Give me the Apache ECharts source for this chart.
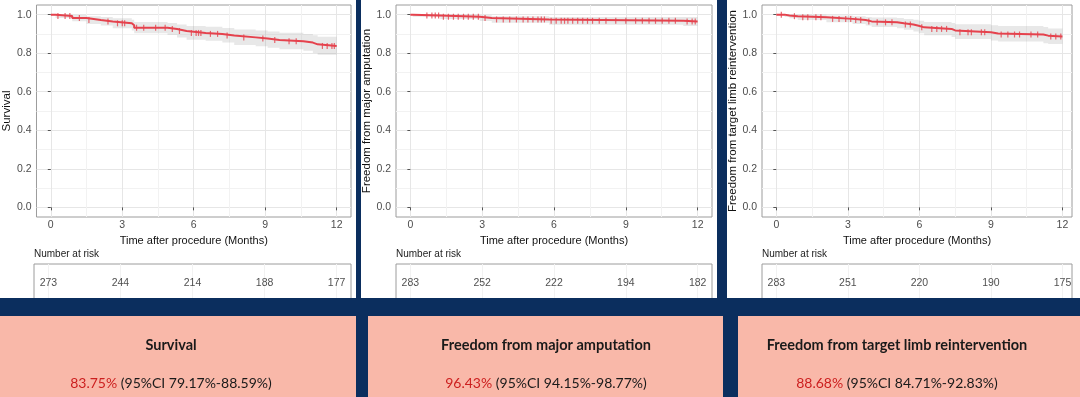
<!DOCTYPE html>
<html>
<head>
<meta charset="utf-8">
<title>Kaplan-Meier</title>
<script src="https://cdn.jsdelivr.net/npm/echarts@6.0.0/dist/echarts.min.js"></script>
<style>
    html, body { margin: 0; padding: 0; background: #0b2e5e; }
    #main { width: 1080px; height: 397px; }
</style>
</head>
<body>
<div id="main"></div>
<script>
// ---- data ----
var monthTicks = [0, 3, 6, 9, 12];
var monthMinor = [1.5, 4.5, 7.5, 10.5];
var yTicks = [0, 0.2, 0.4, 0.6, 0.8, 1.0];
var yMinor = [0.1, 0.3, 0.5, 0.7, 0.9];

var yNames = ['Survival', 'Freedom from major amputation', 'Freedom from target limb reintervention'];
var boxTitles = ['Survival', 'Freedom from major amputation', 'Freedom from target limb reintervention'];
var estimates = ['83.75%', '96.43%', '88.68%'];
var ciTexts = ['(95%CI 79.17%-88.59%)', '(95%CI 94.15%-98.77%)', '(95%CI 84.71%-92.83%)'];

// survival
var time1 = [0, 0.2, 0.9, 1.5, 2.1, 2.6, 3.4, 3.5, 4.9, 5.3, 5.7, 6.5, 7.2, 7.7, 8.6, 9.1, 9.6, 10.6, 11.0, 11.2, 12];
var surv1 = [1, 0.993, 0.982, 0.972, 0.965, 0.955, 0.945, 0.932, 0.925, 0.915, 0.905, 0.90, 0.892, 0.882, 0.876, 0.869, 0.862, 0.855, 0.846, 0.8375, 0.8375];
var lower1 = [1, 0.983, 0.966, 0.952, 0.943, 0.930, 0.918, 0.903, 0.894, 0.882, 0.870, 0.864, 0.855, 0.843, 0.836, 0.828, 0.820, 0.812, 0.801, 0.7917, 0.7917];
var upper1 = [1, 1.0, 0.998, 0.992, 0.988, 0.981, 0.973, 0.962, 0.957, 0.949, 0.941, 0.937, 0.931, 0.923, 0.918, 0.912, 0.906, 0.900, 0.893, 0.8859, 0.8859];
var censor1 = [0.3, 0.6, 0.8, 1.2, 1.6, 2.4, 2.8, 3.0, 3.1, 3.6, 3.9, 4.4, 4.8, 5.1, 5.4, 5.9, 6.1, 6.2, 6.3, 6.7, 7.0, 7.4, 8.1, 8.9, 9.4, 10.0, 10.3, 11.4, 11.6, 11.8, 11.9];
var risk1 = [273, 244, 214, 188, 177];

// major amputation
var time2 = [0, 0.1, 1.25, 2.9, 3.4, 5.8, 11.4, 12];
var surv2 = [1, 0.996, 0.989, 0.982, 0.975, 0.968, 0.9643, 0.9643];
var lower2 = [1, 0.989, 0.977, 0.967, 0.958, 0.948, 0.9415, 0.9415];
var upper2 = [1, 1, 1, 0.997, 0.992, 0.988, 0.9877, 0.9877];
var censor2 = [0.69, 0.9, 1.04, 1.18, 1.38, 1.59, 1.8, 2.0, 2.22, 2.42, 2.63, 2.84, 3.12, 3.6, 3.88, 4.15, 4.43, 4.71, 4.91, 5.12, 5.33, 5.47, 5.6, 5.88, 6.09, 6.3, 6.44, 6.58, 6.78, 6.99, 7.2, 7.4, 7.61, 7.89, 8.17, 8.58, 9.0, 9.41, 9.69, 9.97, 10.24, 10.52, 10.8, 11.07, 11.56, 11.77, 11.9];
var risk2 = [283, 252, 222, 194, 182];

// target limb reintervention
var time3 = [0, 0.35, 0.55, 0.9, 2.1, 3.2, 3.75, 4.0, 5.06, 5.35, 5.75, 5.97, 6.2, 7.35, 7.5, 9.0, 9.3, 11.2, 11.4, 12];
var surv3 = [1, 0.996, 0.992, 0.986, 0.978, 0.972, 0.965, 0.96, 0.955, 0.949, 0.942, 0.934, 0.926, 0.918, 0.909, 0.902, 0.897, 0.891, 0.8868, 0.8868];
var lower3 = [1, 0.988, 0.981, 0.972, 0.961, 0.952, 0.943, 0.936, 0.929, 0.921, 0.912, 0.903, 0.893, 0.884, 0.874, 0.866, 0.860, 0.852, 0.8471, 0.8471];
var upper3 = [1, 1, 1, 0.999, 0.995, 0.992, 0.988, 0.985, 0.982, 0.978, 0.973, 0.968, 0.962, 0.956, 0.950, 0.945, 0.941, 0.936, 0.9283, 0.9283];
var censor3 = [0.21, 0.76, 1.11, 1.32, 1.66, 1.87, 2.36, 2.63, 2.91, 3.12, 3.33, 3.54, 3.88, 4.23, 4.58, 4.85, 5.41, 5.62, 6.1, 6.52, 6.73, 6.93, 7.14, 7.7, 8.04, 8.18, 8.6, 8.74, 9.43, 9.71, 9.99, 10.2, 10.68, 10.96, 11.51, 11.72, 11.93];
var risk3 = [283, 251, 220, 190, 175];

var panels = [
    { time: time1, surv: surv1, lower: lower1, upper: upper1, censor: censor1, risk: risk1 },
    { time: time2, surv: surv2, lower: lower2, upper: upper2, censor: censor2, risk: risk2 },
    { time: time3, surv: surv3, lower: lower3, upper: upper3, censor: censor3, risk: risk3 }
];

// ---- layout ----
var plotLeft = [34, 396, 762];
var plotWidth = [317, 316, 310];
var xMax = [12.6, 12.6, 12.4];
var panelRects = [[0, 0, 356, 298], [361, 0, 356, 298], [727, 0, 353, 298]];
var boxRects = [[0, 316, 356, 81], [368, 316, 355, 81], [738, 316, 342, 81]];
var boxCenter = [171, 546, 897];

var FONT = 'Liberation Sans, Arial, sans-serif';
var RED = '#e5424d';

function survAt(times, surv, t) {
    var v = surv[0];
    for (var k = 0; k < times.length; k++) {
        if (times[k] <= t) v = surv[k];
    }
    return v;
}

// confidence band as one step-shaped polygon, placed through the axes
function bandRenderer(p) {
    return function (params, api) {
        var pts = [], n = p.time.length, k;
        for (k = 0; k < n; k++) {
            if (k > 0) pts.push(api.coord([p.time[k], p.upper[k - 1]]));
            pts.push(api.coord([p.time[k], p.upper[k]]));
        }
        for (k = n - 1; k >= 0; k--) {
            pts.push(api.coord([p.time[k], p.lower[k]]));
            if (k > 0) pts.push(api.coord([p.time[k], p.lower[k - 1]]));
        }
        return { type: 'polygon', shape: { points: pts }, style: { fill: 'rgba(150,150,150,0.22)' } };
    };
}

var grids = [], xAxes = [], yAxes = [], series = [], graphics = [];

panelRects.forEach(function (r) {
    graphics.push({ type: 'rect', z: -1, shape: { x: r[0], y: r[1], width: r[2], height: r[3] }, style: { fill: '#fff' } });
});

panels.forEach(function (p, i) {
    var g = i * 2, a = i * 3;

    // main plot
    grids.push({ left: plotLeft[i], width: plotWidth[i], top: 5, height: 212, show: true, borderColor: '#9c9c9c', borderWidth: 1, backgroundColor: 'transparent' });
    // number at risk box
    grids.push({ left: plotLeft[i], width: plotWidth[i], top: 264, height: 50, show: true, borderColor: '#9c9c9c', borderWidth: 1 });

    xAxes.push({
        gridIndex: g, type: 'value', min: -0.6, max: xMax[i],
        name: 'Time after procedure (Months)', nameLocation: 'middle', nameGap: 12,
        nameTextStyle: { fontSize: 11, color: '#111', fontFamily: FONT },
        axisLine: { show: false },
        axisTick: { show: true, length: 3, lineStyle: { color: '#555' }, customValues: monthTicks },
        axisLabel: { fontSize: 10.5, color: '#4d4d4d', margin: 3, fontFamily: FONT, customValues: monthTicks },
        splitLine: { show: true, lineStyle: { color: '#e6e6e6', width: 1 } }
    });
    xAxes.push({
        gridIndex: g, type: 'value', min: -0.6, max: xMax[i], position: 'top',
        axisLine: { show: false }, axisLabel: { show: false },
        axisTick: { show: false, customValues: monthMinor },
        splitLine: { show: true, lineStyle: { color: '#f2f2f2', width: 1 } }
    });
    xAxes.push({
        gridIndex: g + 1, type: 'value', min: -0.6, max: xMax[i],
        axisLine: { show: false }, axisLabel: { show: false },
        axisTick: { show: false, customValues: monthTicks },
        splitLine: { show: true, lineStyle: { color: '#f2f2f2', width: 1 } }
    });

    yAxes.push({
        gridIndex: g, type: 'value', min: -0.05, max: 1.05,
        name: yNames[i], nameLocation: 'middle', nameGap: 21, nameRotate: 90,
        nameTextStyle: { fontSize: 11.5, color: '#111', fontFamily: FONT },
        axisLine: { show: false },
        axisTick: { show: true, length: 3, lineStyle: { color: '#555' }, customValues: yTicks },
        axisLabel: { fontSize: 10.5, color: '#4d4d4d', margin: 5, fontFamily: FONT, customValues: yTicks,
            formatter: function (v) { return v.toFixed(1); } },
        splitLine: { show: true, lineStyle: { color: '#e6e6e6', width: 1 } }
    });
    yAxes.push({
        gridIndex: g, type: 'value', min: -0.05, max: 1.05, position: 'right',
        axisLine: { show: false }, axisLabel: { show: false },
        axisTick: { show: false, customValues: yMinor },
        splitLine: { show: true, lineStyle: { color: '#f2f2f2', width: 1 } }
    });
    yAxes.push({
        gridIndex: g + 1, type: 'value', min: -1, max: 1,
        axisLine: { show: false }, axisLabel: { show: false }, axisTick: { show: false }, splitLine: { show: false }
    });

    // confidence band
    series.push({
        type: 'custom', xAxisIndex: a, yAxisIndex: a, silent: true, clip: true,
        renderItem: bandRenderer(p),
        data: [[0, 1]]
    });
    // KM step curve
    series.push({
        type: 'line', xAxisIndex: a, yAxisIndex: a, step: 'end', symbol: 'none',
        lineStyle: { color: RED, width: 2 },
        data: p.time.map(function (t, k) { return [t, p.surv[k]]; })
    });
    // censor ticks
    series.push({
        type: 'scatter', xAxisIndex: a, yAxisIndex: a, symbol: 'rect', symbolSize: [1.2, 6],
        itemStyle: { color: RED },
        data: p.censor.map(function (t) { return [t, survAt(p.time, p.surv, t)]; })
    });
    // numbers at risk
    series.push({
        type: 'scatter', xAxisIndex: a + 2, yAxisIndex: a + 2, symbolSize: 1,
        itemStyle: { color: 'transparent' },
        label: { show: true, position: 'inside', fontSize: 10.5, color: '#222', fontFamily: FONT,
            formatter: function (d) { return d.value[2]; } },
        data: monthTicks.map(function (m, k) { return [m, 0.25, p.risk[k]]; })
    });

    graphics.push({
        type: 'text', x: plotLeft[i], y: 254,
        style: { text: 'Number at risk', fontSize: 10, fontFamily: FONT, fill: '#222', verticalAlign: 'middle' }
    });
});

// bottom band with the summary boxes
graphics.push({ type: 'rect', z: 100, shape: { x: 0, y: 298, width: 1080, height: 99 }, style: { fill: '#0b2e5e' } });
boxRects.forEach(function (r, i) {
    graphics.push({ type: 'rect', z: 101, shape: { x: r[0], y: r[1], width: r[2], height: r[3] }, style: { fill: '#f9b8a9' } });
    graphics.push({
        type: 'text', z: 102, x: boxCenter[i], y: 345,
        style: { text: boxTitles[i], fontSize: 14.5, fontWeight: 'bold', fontFamily: 'Lato, sans-serif', fill: '#1a1a1a',
            align: 'center', verticalAlign: 'middle' }
    });
    graphics.push({
        type: 'text', z: 102, x: boxCenter[i], y: 383,
        style: { text: '{r|' + estimates[i] + '} ' + ciTexts[i], fontSize: 14, fontFamily: 'Lato, sans-serif', fill: '#1a1a1a',
            align: 'center', verticalAlign: 'middle',
            rich: { r: { fill: '#cc1f1f', fontSize: 14, fontFamily: 'Lato, sans-serif' } } }
    });
});

var myChart = echarts.init(document.getElementById('main'));
myChart.setOption({
    backgroundColor: '#0b2e5e',
    animation: false,
    grid: grids,
    xAxis: xAxes,
    yAxis: yAxes,
    series: series,
    graphic: graphics
});
</script>
</body>
</html>
